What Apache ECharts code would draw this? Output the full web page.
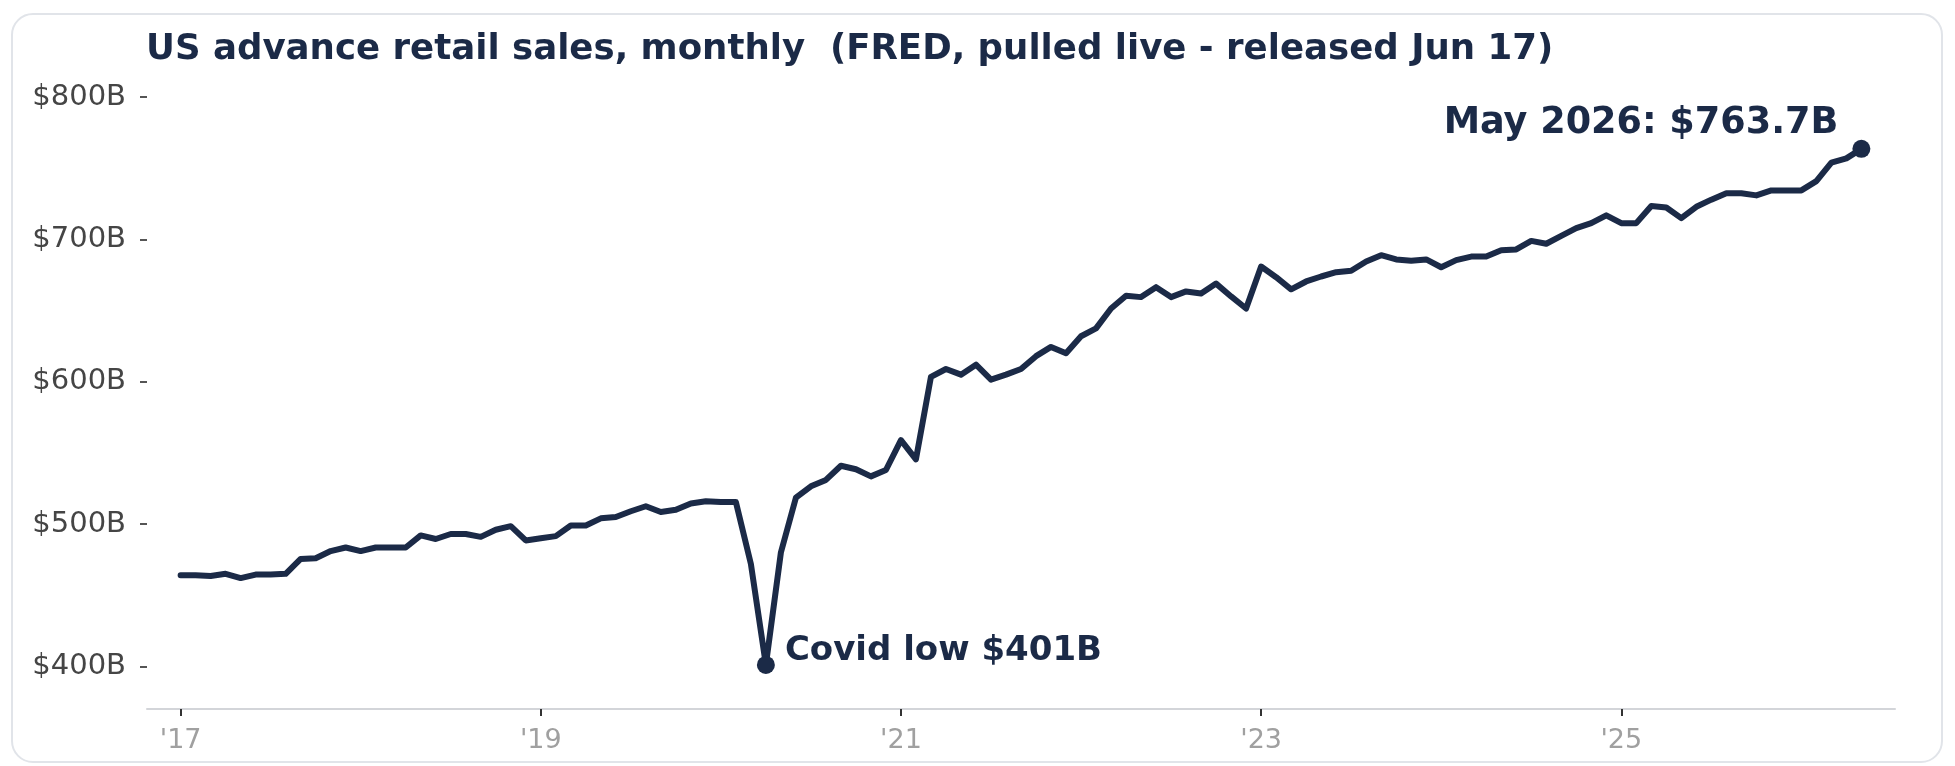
<!DOCTYPE html>
<html>
<head>
<meta charset="utf-8">
<script src="https://cdn.jsdelivr.net/npm/echarts@6/dist/echarts.min.js"></script>
<style>
  html, body { margin: 0; padding: 0; background: #ffffff; width: 1955px; height: 766px; overflow: hidden; }
  #card { position: absolute; left: 11px; top: 13px; width: 1932px; height: 750px; border: 2px solid #e1e4e9; border-radius: 22px; box-sizing: border-box; }
  #chart { position: absolute; left: 0; top: 0; width: 1955px; height: 766px; }
</style>
</head>
<body>
<div id="card"></div>
<div id="chart"></div>
<script>
// ---- data (US advance retail sales, $B, monthly, Jan 2017 - May 2026) ----
const years = [2017, 2018, 2019, 2020, 2021, 2022, 2023, 2024, 2025, 2026];
const sales2017 = [464, 464, 463.5, 465, 462, 464.5, 464.5, 465, 475.5, 476, 481, 483.5];
const sales2018 = [481, 483.5, 483.5, 483.5, 492, 489.5, 493, 493, 491, 496, 498.5, 488.5];
const sales2019 = [490, 491.5, 499, 499, 504, 505, 509, 512.5, 508.5, 510, 514.5, 516];
const sales2020 = [515.5, 515.5, 472, 401, 480, 518.5, 526.5, 531, 541, 538.5, 533.5, 538];
const sales2021 = [559, 545.5, 603.5, 609, 605, 612, 601.5, 605, 609, 618, 624.5, 620];
const sales2022 = [632, 637.5, 651.5, 660.5, 659.5, 666.5, 659.5, 663.5, 662, 669, 660, 651.5];
const sales2023 = [681, 673.5, 665, 670.5, 674, 677, 678, 684.5, 689, 686, 685, 686];
const sales2024 = [680.5, 685.5, 688, 688, 692.5, 693, 699, 697, 702.5, 708, 711.5, 717];
const sales2025 = [711.5, 711.5, 723.5, 722.5, 715, 723, 728, 732.5, 732.5, 731, 734.5, 734.5];
const sales2026 = [734.5, 741, 754, 757, 763.7];

const xTickYears = [2017, 2019, 2021, 2023, 2025];
const xTickLabels = ["'17", "'19", "'21", "'23", "'25"];
const yTickValues = [400, 500, 600, 700, 800];
const yTickLabels = ['$400B', '$500B', '$600B', '$700B', '$800B'];

const titleText = 'US advance retail sales, monthly  (FRED, pulled live - released Jun 17)';
const covidLabel = 'Covid low $401B';
const latestLabel = 'May 2026: $763.7B';

// ---- build series (x = months since Jan 2017) ----
const salesByYear = [sales2017, sales2018, sales2019, sales2020, sales2021, sales2022, sales2023, sales2024, sales2025, sales2026];
const seriesData = [];
salesByYear.forEach(function (arr, yi) {
  arr.forEach(function (v, m) { seriesData.push([(years[yi] - years[0]) * 12 + m, v]); });
});
let minIdx = 0;
seriesData.forEach(function (p, k) { if (p[1] < seriesData[minIdx][1]) minIdx = k; });
const lowPoint = seriesData[minIdx];
const lastPoint = seriesData[seriesData.length - 1];
const xTickValues = xTickYears.map(function (y) { return (y - years[0]) * 12; });

const navy = '#1b2a47';
const FONT = 'DejaVu Sans';

const chart = echarts.init(document.getElementById('chart'), null, { renderer: 'canvas' });
chart.setOption({
  animation: false,
  backgroundColor: 'transparent',
  title: {
    text: titleText,
    left: 146,
    top: 30,
    padding: 0,
    textStyle: { fontFamily: FONT, fontWeight: 'bold', fontSize: 35.6, color: navy, lineHeight: 40 }
  },
  grid: { left: 147, right: 60, top: 83, bottom: 57, containLabel: false },
  xAxis: {
    type: 'value',
    min: -2.24,
    max: lastPoint[0] + 2.24,
    splitLine: { show: false },
    axisLine: { show: true, onZero: false, lineStyle: { color: '#d3d5d9', width: 2 } },
    axisTick: { show: true, length: 7, lineStyle: { color: '#333333', width: 2 }, customValues: xTickValues },
    axisLabel: {
      customValues: xTickValues,
      margin: 18,
      fontFamily: FONT, fontSize: 27, color: '#a0a0a0',
      formatter: function (v) { const k = xTickValues.indexOf(Math.round(v)); return k >= 0 ? xTickLabels[k] : ''; }
    }
  },
  yAxis: {
    type: 'value',
    min: 370,
    max: 810,
    splitLine: { show: false },
    axisLine: { show: false, onZero: false },
    axisTick: { show: true, length: 7, lineStyle: { color: '#555555', width: 2 }, customValues: yTickValues },
    axisLabel: {
      customValues: yTickValues,
      margin: 21,
      fontFamily: FONT, fontSize: 29, color: '#454545',
      formatter: function (v) { const k = yTickValues.indexOf(Math.round(v)); return k >= 0 ? yTickLabels[k] : ''; }
    }
  },
  series: [
    {
      type: 'line',
      data: seriesData,
      showSymbol: false,
      lineStyle: { color: navy, width: 6, join: 'round', cap: 'round' },
      z: 2
    },
    {
      type: 'scatter',
      data: [
        { value: lowPoint, label: { show: true, formatter: covidLabel, position: 'right', distance: 10, offset: [0, -14], fontSize: 34 } },
        { value: lastPoint, label: { show: true, formatter: latestLabel, position: 'left', distance: 14, offset: [0, -25], fontSize: 36.6 } }
      ],
      symbol: 'circle',
      symbolSize: 18,
      itemStyle: { color: navy, opacity: 1 },
      label: { fontFamily: FONT, fontWeight: 'bold', color: navy, opacity: 1 },
      emphasis: { disabled: true },
      z: 3
    }
  ]
});
</script>
</body>
</html>
